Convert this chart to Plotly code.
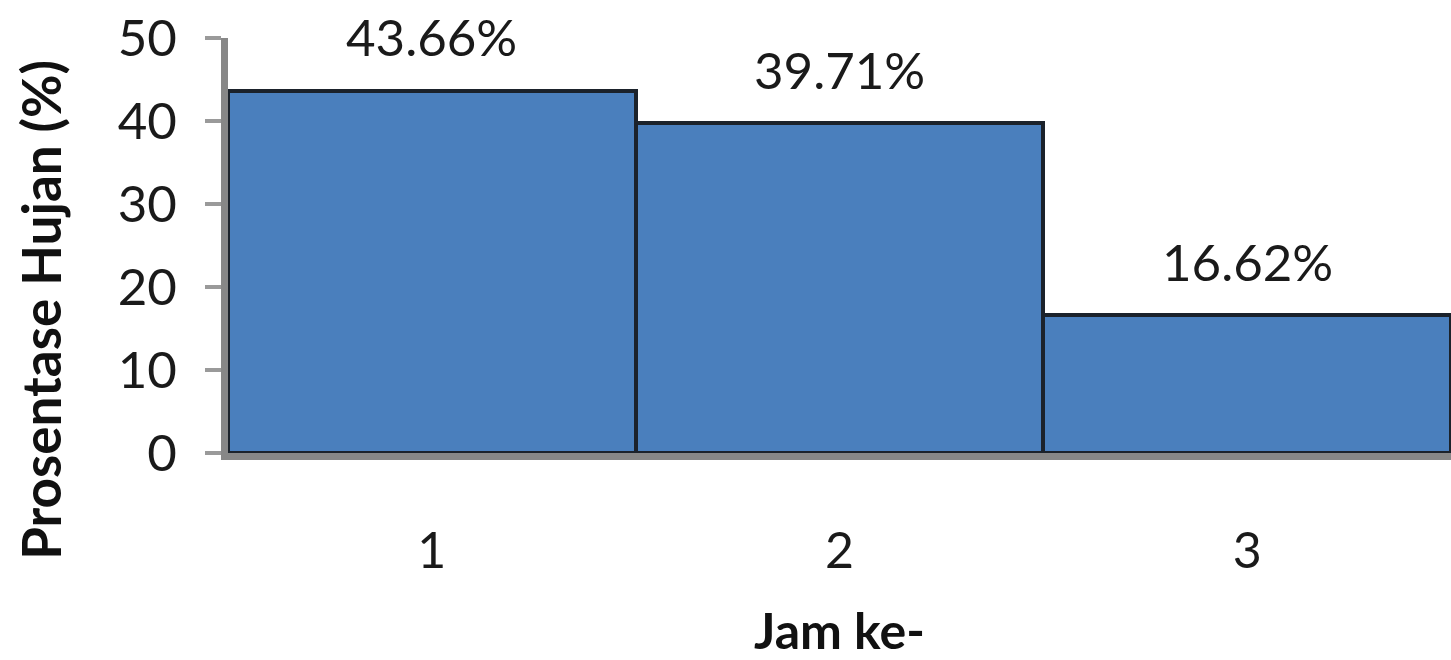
import plotly.graph_objects as go

# Rainfall distribution per hour
jam = ["1", "2", "3"]
prosentase = [43.66, 39.71, 16.62]
label_teks = [f"{v:.2f}%" for v in prosentase]

y_ticks = [0, 10, 20, 30, 40, 50]

FONT = "Lato, 'Open Sans', sans-serif"
AXIS_GREY = "#878787"

fig = go.Figure(
    go.Bar(
        x=jam,
        y=prosentase,
        width=1.0,
        marker=dict(color="#4A7FBD", line=dict(color="#1B222B", width=4)),
        hoverinfo="skip",
    )
)

# value labels above each bar (category index used as the x position)
for i, (v, t) in enumerate(zip(prosentase, label_teks)):
    fig.add_annotation(
        x=i, y=v, xref="x", yref="y", text=t, showarrow=False,
        yanchor="middle", yshift=54,
        font=dict(family=FONT, size=51, color="#1a1a1a"),
    )

# vertical axis title, placed a little below the plot-area centre
fig.add_annotation(
    x=0, xref="paper", xshift=-187, xanchor="center",
    y=0.345, yref="paper", yanchor="middle",
    text="<b>Prosentase Hujan (%)</b>", textangle=-90, showarrow=False,
    font=dict(family=FONT, size=53, color="#111"),
)

fig.update_layout(
    width=1451,
    height=660,
    margin=dict(l=228, r=0, t=38, b=207),
    paper_bgcolor="white",
    plot_bgcolor="white",
    showlegend=False,
    bargap=0,
    font=dict(family=FONT, color="#1a1a1a"),
)

fig.update_xaxes(
    type="category",
    range=[-0.5, 2.5],
    showline=True, linecolor=AXIS_GREY, linewidth=7,
    ticks="", showgrid=False, zeroline=False,
    tickfont=dict(family=FONT, size=50, color="#1a1a1a"),
    ticklabelstandoff=48,
    title=dict(text="<b>Jam ke-</b>", font=dict(family=FONT, size=50, color="#111"),
               standoff=44),
)

fig.update_yaxes(
    range=[0, 50],
    tickvals=y_ticks,
    showline=True, linecolor=AXIS_GREY, linewidth=7,
    ticks="outside", ticklen=16, tickwidth=4, tickcolor="#9a9a9a",
    showgrid=False, zeroline=False,
    tickfont=dict(family=FONT, size=51, color="#1a1a1a"),
    ticklabelstandoff=18,
)

fig.write_html("out.html")
